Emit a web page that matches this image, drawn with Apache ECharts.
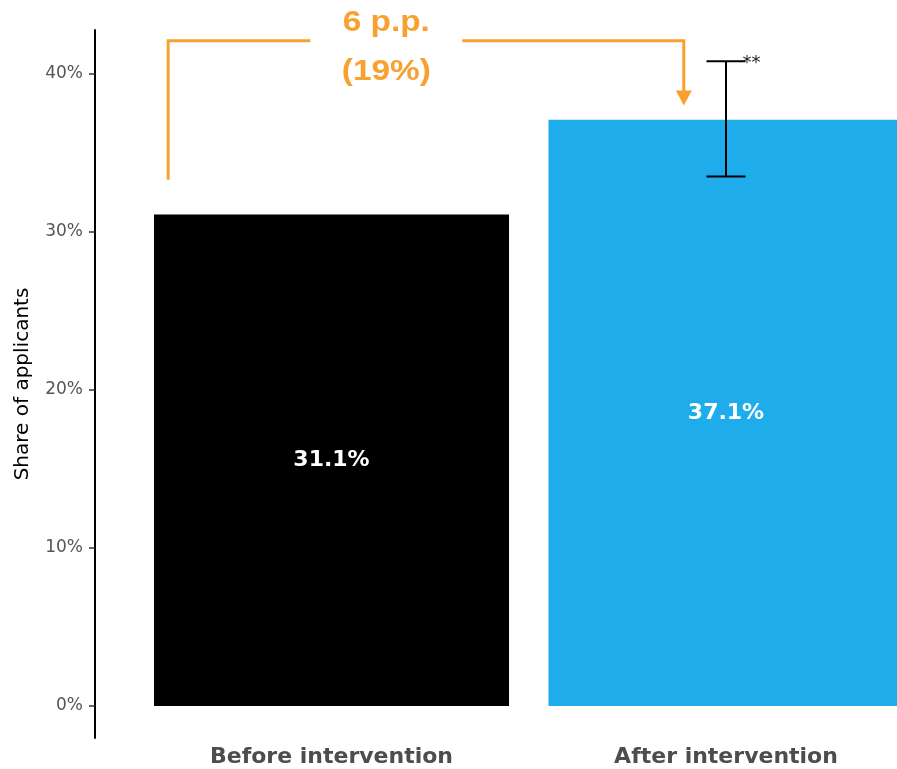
<!DOCTYPE html>
<html>
<head>
<meta charset="utf-8">
<script src="https://cdn.jsdelivr.net/npm/echarts@6/dist/echarts.min.js"></script>
<style>html,body{margin:0;padding:0;background:#fff}#c{width:897px;height:769px}</style>
</head>
<body>
<div id="c"></div>
<script>
// ---- data ----
const categories = ['Before intervention', 'After intervention'];
const values = [31.1, 37.1];
const barColors = ['#000000', '#1EADEA'];
const errLow = [null, 33.5];
const errHigh = [null, 40.8];
const sigLabels = ['', '**'];
const tickValues = [0, 10, 20, 30, 40];
const diffLines = ['6 p.p.', '(19%)'];
// bracket anchors: [category position, value]
const bracketStart = [0 - 0.414, 33.3];
const bracketTop = 42.1;
const bracketEnd = [1 - 0.107, 38.0];
const diffTextCenter = [0.139, 43.2];
const diffTextCenter2 = [0.139, 40.1];

const ORANGE = '#F8A131';
const chart = echarts.init(document.getElementById('c'), null, {renderer: 'canvas'});

const option = {
  animation: false,
  grid: {left: 134.25, top: 30, width: 789, bottom: 31, containLabel: false, outerBoundsMode: 'none'},
  xAxis: {
    type: 'category',
    data: categories,
    axisLine: {show: false},
    axisTick: {show: false},
    axisLabel: {
      margin: 8,
      fontFamily: 'DejaVu Sans', fontWeight: 'bold', fontSize: 22, color: '#4D4D4D'
    }
  },
  yAxis: {
    type: 'value',
    min: -2.03, max: 42.78,
    offset: 39.25,
    name: 'Share of applicants',
    nameLocation: 'middle',
    nameGap: 62,
    nameRotate: 90,
    nameTextStyle: {fontFamily: 'DejaVu Sans', fontSize: 20, color: '#000'},
    axisLine: {show: true, lineStyle: {color: '#000', width: 2}},
    axisTick: {show: true, length: 6, customValues: tickValues, lineStyle: {color: '#333', width: 1.5}},
    axisLabel: {
      customValues: tickValues,
      formatter: v => v + '%',
      margin: 12,
      fontFamily: 'DejaVu Sans', fontSize: 17, color: '#555'
    },
    splitLine: {show: false}
  },
  series: [
    {
      type: 'bar',
      barCategoryGap: '10%',
      data: values.map((v, i) => ({value: v, itemStyle: {color: barColors[i]}})),
      label: {
        show: true, position: 'inside',
        formatter: p => p.value.toFixed(1) + '%',
        color: '#fff', fontFamily: 'DejaVu Sans', fontWeight: 'bold', fontSize: 22
      }
    },
    {
      type: 'custom',
      z: 5,
      data: errLow.map((lo, i) => [i, lo, errHigh[i]]).filter(d => d[1] != null),
      renderItem: function (params, api) {
        const i = api.value(0);
        const lo = api.coord([i, api.value(1)]);
        const hi = api.coord([i, api.value(2)]);
        const hw = 19.5;
        const st = {stroke: '#000', lineWidth: 2};
        return {
          type: 'group',
          children: [
            {type: 'line', shape: {x1: lo[0], y1: lo[1], x2: hi[0], y2: hi[1]}, style: st},
            {type: 'line', shape: {x1: lo[0] - hw, y1: lo[1], x2: lo[0] + hw, y2: lo[1]}, style: st},
            {type: 'line', shape: {x1: hi[0] - hw, y1: hi[1], x2: hi[0] + hw, y2: hi[1]}, style: st},
            {type: 'text', x: hi[0] + hw - 3, y: hi[1] + 2, style: {text: sigLabels[i], fill: '#222', font: '18px "DejaVu Sans"', textAlign: 'left', textVerticalAlign: 'middle'}}
          ]
        };
      }
    }
  ]
};
chart.setOption(option);

function px(pos) {
  const c0 = chart.convertToPixel({xAxisIndex: 0, yAxisIndex: 0}, [0, pos[1]]);
  const c1 = chart.convertToPixel({xAxisIndex: 0, yAxisIndex: 0}, [1, pos[1]]);
  const band = c1[0] - c0[0];
  return [c0[0] + band * pos[0], c0[1]];
}
const s = px(bracketStart);
const tl = px([bracketStart[0], bracketTop]);
const e = px(bracketEnd);
const tr = px([bracketEnd[0], bracketTop]);
const t1 = px(diffTextCenter);
const t2 = px(diffTextCenter2);
const gapL = t1[0] - 76, gapR = t1[0] + 76;
const lineStyle = {stroke: ORANGE, lineWidth: 3, fill: null, lineJoin: 'miter'};
const FONT = 'bold 29px Arial, "Liberation Sans", Helvetica, sans-serif';
chart.setOption({
  graphic: [
    {type: 'polyline', shape: {points: [s, tl, [gapL, tl[1]]]}, style: lineStyle, z: 10},
    {type: 'polyline', shape: {points: [[gapR, tr[1]], tr, [e[0], e[1] - 14]]}, style: lineStyle, z: 10},
    {type: 'polygon', shape: {points: [[e[0] - 8, e[1] - 15], [e[0] + 8, e[1] - 15], [e[0], e[1]]]}, style: {fill: ORANGE}, z: 10},
    {type: 'text', x: t1[0], y: t1[1], scaleX: 1.15, style: {text: diffLines[0], fill: ORANGE, font: FONT, textAlign: 'center', textVerticalAlign: 'middle'}, z: 10},
    {type: 'text', x: t2[0], y: t2[1], scaleX: 1.15, style: {text: diffLines[1], fill: ORANGE, font: FONT, textAlign: 'center', textVerticalAlign: 'middle'}, z: 10}
  ]
});
</script>
</body>
</html>
